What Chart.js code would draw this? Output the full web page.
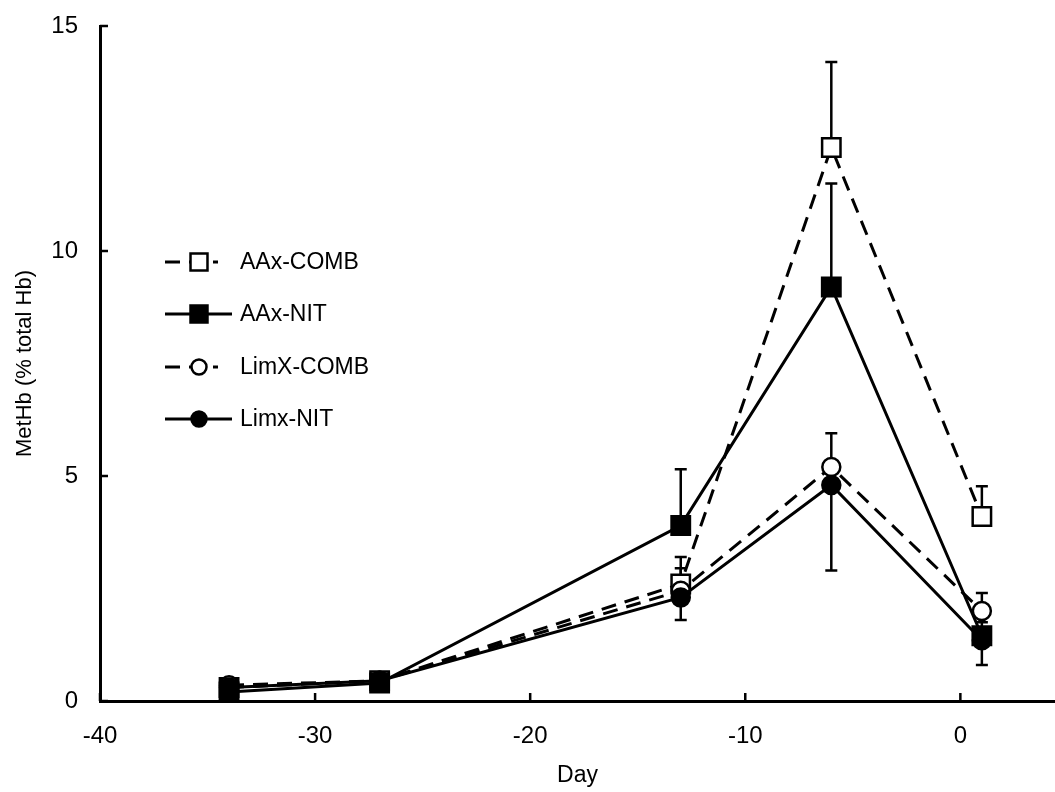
<!DOCTYPE html>
<html>
<head>
<meta charset="utf-8">
<script src="https://cdn.jsdelivr.net/npm/chart.js@4/dist/chart.umd.min.js"></script>
<style>
  html, body { margin: 0; padding: 0; background: #fff; }
  #wrap { width: 1055px; height: 792px; }
</style>
</head>
<body>
<div id="wrap"><canvas id="metChart" width="1055" height="792"></canvas></div>
<script>
// days of sampling
const days = [-34, -27, -13, -6, 1];

// MetHb (% total Hb) per group
const aaxComb = [0.3, 0.45, 2.6, 12.3, 4.1];
const aaxNit = [0.2, 0.4, 3.9, 9.2, 1.45];
const limxComb = [0.35, 0.45, 2.45, 5.2, 2.0];
const limxNit = [0.3, 0.45, 2.3, 4.8, 1.35];

// error bars (plus side / minus side)
const aaxCombErrUp = [0.1, 0.1, 0.6, 1.9, 0.67];
const aaxNitErrUp = [0.1, 0.1, 1.25, 2.3, 0.3];
const limxCombErrUp = [0.1, 0.1, 0.5, 0.75, 0.4];
const limxNitErrDown = [0.1, 0.1, 0.5, 1.9, 0.55];

const xTicks = [-40, -30, -20, -10, 0];
const yTicks = [0, 5, 10, 15];

const seriesNames = ["AAx-COMB", "AAx-NIT", "LimX-COMB", "Limx-NIT"];

const FONT = "'Liberation Sans', Arial, sans-serif";
const DASH = [15, 9];

function pts(arr) {
    return days.map((d, i) => ({ x: d, y: arr[i] }));
}

function makeSet(label, arr, dashed, style, filled, radius, up, down, order) {
    return {
        label: label,
        data: pts(arr),
        order: order,
        borderColor: "#000",
        borderWidth: 3,
        borderDash: dashed ? DASH : [],
        pointStyle: style,
        pointRadius: radius,
        pointHoverRadius: radius,
        pointBorderWidth: 2.5,
        pointBackgroundColor: filled ? "#000" : "#fff",
        pointBorderColor: "#000",
        fill: false,
        tension: 0,
        errUp: up,
        errDown: down
    };
}

// error bars, drawn under the markers
const errorBars = {
    id: "errorBars",
    beforeDatasetsDraw(chart) {
        const ctx = chart.ctx;
        const xs = chart.scales.x, ys = chart.scales.y;
        ctx.save();
        ctx.strokeStyle = "#000";
        ctx.lineWidth = 2.5;
        ctx.setLineDash([]);
        chart.data.datasets.forEach(ds => {
            ds.data.forEach((p, i) => {
                const px = xs.getPixelForValue(p.x);
                const py = ys.getPixelForValue(p.y);
                const ends = [];
                if (ds.errUp) ends.push(ys.getPixelForValue(p.y + ds.errUp[i]));
                if (ds.errDown) ends.push(ys.getPixelForValue(p.y - ds.errDown[i]));
                ends.forEach(e => {
                    ctx.beginPath();
                    ctx.moveTo(px, py);
                    ctx.lineTo(px, e);
                    ctx.moveTo(px - 6, e);
                    ctx.lineTo(px + 6, e);
                    ctx.stroke();
                });
            });
        });
        ctx.restore();
    }
};

// inside tick marks and the legend box on the left
const decorations = {
    id: "decorations",
    afterDraw(chart) {
        const ctx = chart.ctx;
        const xs = chart.scales.x, ys = chart.scales.y;
        const area = chart.chartArea;
        ctx.save();
        ctx.strokeStyle = "#000";
        ctx.lineWidth = 2.5;
        xTicks.forEach(v => {
            const px = xs.getPixelForValue(v);
            ctx.beginPath();
            ctx.moveTo(px, area.bottom);
            ctx.lineTo(px, area.bottom - 8);
            ctx.stroke();
        });
        yTicks.forEach(v => {
            const py = ys.getPixelForValue(v);
            ctx.beginPath();
            ctx.moveTo(area.left, py);
            ctx.lineTo(area.left + 8, py);
            ctx.stroke();
        });

        // legend
        const rowY = [262, 314, 367, 419];
        ctx.font = "23px " + FONT;
        ctx.textBaseline = "middle";
        chart.data.datasets.forEach((ds, i) => {
            const y = rowY[i];
            ctx.lineWidth = 3;
            ctx.setLineDash(ds.borderDash);
            ctx.beginPath();
            ctx.moveTo(165, y);
            ctx.lineTo(ds.borderDash.length ? 218 : 232, y);
            ctx.stroke();
            ctx.setLineDash([]);
            ctx.fillStyle = ds.pointBackgroundColor;
            ctx.lineWidth = 2.5;
            Chart.helpers.drawPoint(ctx, {
                pointStyle: ds.pointStyle,
                radius: ds.pointStyle === "rect" ? 12 : 7.5,
                rotation: 0,
                borderWidth: 2.5
            }, 199, y);
            ctx.fillStyle = "#000";
            ctx.fillText(ds.label, 240, y + 1);
        });
        ctx.restore();
    }
};

document.addEventListener("DOMContentLoaded", () => {
    const ctx = document.getElementById("metChart").getContext("2d");

    new Chart(ctx, {
        type: "line",
        data: {
            datasets: [
                makeSet(seriesNames[0], aaxComb, true, "rect", false, 13, aaxCombErrUp, null, 3),
                makeSet(seriesNames[1], aaxNit, false, "rect", true, 13, aaxNitErrUp, null, 0),
                makeSet(seriesNames[2], limxComb, true, "circle", false, 9, limxCombErrUp, null, 2),
                makeSet(seriesNames[3], limxNit, false, "circle", true, 9, null, limxNitErrDown, 1)
            ]
        },
        options: {
            responsive: false,
            animation: false,
            events: [],
            layout: { autoPadding: false, padding: { top: 26, right: 0, left: 0, bottom: 0 } },
            plugins: {
                legend: { display: false },
                tooltip: { enabled: false }
            },
            scales: {
                x: {
                    type: "linear",
                    min: -40,
                    max: 4.4,
                    afterBuildTicks: s => { s.ticks = xTicks.map(v => ({ value: v })); },
                    afterFit: s => {
                        s.height = 91;
                        s.paddingLeft = 0;
                        s.paddingRight = 0;
                    },
                    grid: { display: false, drawTicks: false },
                    border: { display: true, color: "#000", width: 3 },
                    ticks: { color: "#000", padding: 21, font: { family: FONT, size: 24 } },
                    title: {
                        display: true,
                        text: "Day",
                        color: "#000",
                        padding: { top: 0, bottom: 3 },
                        font: { family: FONT, size: 23 }
                    }
                },
                y: {
                    type: "linear",
                    min: 0,
                    max: 15,
                    afterBuildTicks: s => { s.ticks = yTicks.map(v => ({ value: v })); },
                    afterFit: s => {
                        s.width = 100;
                        s.paddingTop = 0;
                        s.paddingBottom = 0;
                    },
                    grid: { display: false, drawTicks: false },
                    border: { display: true, color: "#000", width: 3 },
                    ticks: { color: "#000", padding: 22, font: { family: FONT, size: 24 } },
                    title: {
                        display: true,
                        text: "MetHb (% total Hb)",
                        color: "#000",
                        padding: { top: 12, bottom: 0 },
                        font: { family: FONT, size: 22 }
                    }
                }
            }
        },
        plugins: [errorBars, decorations]
    });
});
</script>
</body>
</html>
